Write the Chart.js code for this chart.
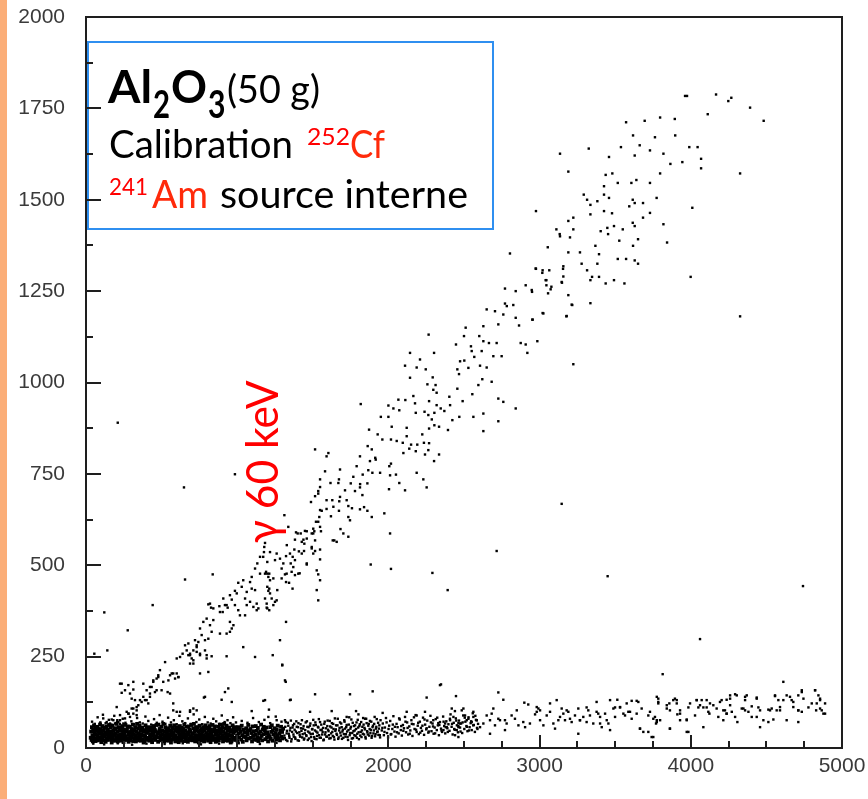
<!DOCTYPE html>
<html>
<head>
<meta charset="utf-8">
<script src="https://cdn.jsdelivr.net/npm/chart.js@4.4.1/dist/chart.umd.min.js"></script>
<style>
  html, body { margin: 0; padding: 0; background: #ffffff; }
  #wrap { position: relative; width: 868px; height: 799px; }
  canvas { display: block; }
</style>
</head>
<body>
<div id="wrap"><canvas id="c" width="868" height="799"></canvas></div>
<script>
// Axis ticks
const xTicks = [0, 1000, 2000, 3000, 4000, 5000];
const yTicks = [0, 250, 500, 750, 1000, 1250, 1500, 1750, 2000];
const xMinorTicks = [250, 500, 750, 1250, 1500, 1750, 2250, 2500, 2750, 3250, 3500, 3750, 4250, 4500, 4750];
const yMinorTicks = [125, 375, 625, 875, 1125, 1375, 1625, 1875];

// Dense low-energy core of the lower band
const lowCore = [
[31,28],[34,45],[37,22],[39,57],[42,35],[45,18],[47,49],[50,31],[53,62],[56,25],[58,41],[61,53],
[63,19],[66,37],[69,47],[71,27],[74,58],[77,33],[79,21],[82,44],[85,52],[88,29],[90,39],[93,64],
[95,24],[98,51],[101,16],[103,42],[106,34],[109,60],[111,27],[114,48],[117,20],[120,38],[122,55],[125,31],
[127,43],[130,17],[133,36],[135,59],[138,26],[141,50],[143,22],[146,46],[149,32],[152,63],[154,29],[157,40],
[159,33],[162,56],[165,23],[167,45],[170,15],[173,38],[175,61],[178,28],[181,47],[184,20],[186,52],[189,36],
[191,21],[194,40],[197,54],[199,30],[202,66],[205,25],[207,44],[210,18],[213,35],[216,57],[218,27],[221,49],
[223,31],[226,55],[229,38],[231,20],[234,48],[237,27],[239,60],[242,34],[245,42],[248,16],[250,51],[253,24],
[255,40],[258,29],[261,63],[263,32],[266,46],[269,22],[271,50],[274,26],[277,59],[280,36],[282,17],[285,43],
[287,27],[290,58],[293,33],[295,21],[298,44],[301,52],[303,29],[306,39],[309,64],[312,19],[314,37],[317,47],
[319,49],[322,27],[325,57],[327,35],[330,18],[333,44],[335,25],[338,66],[341,30],[344,54],[346,40],[349,21],
[351,38],[354,61],[357,28],[359,47],[362,20],[365,52],[367,36],[370,33],[373,56],[376,23],[378,45],[381,15],
[383,35],[386,18],[389,49],[391,31],[394,62],[397,25],[399,41],[402,53],[405,28],[408,45],[410,22],[413,57],
[415,27],[418,48],[421,20],[423,38],[426,55],[429,31],[431,24],[434,51],[437,16],[440,42],[442,34],[445,60],
[447,36],[450,59],[453,26],[455,50],[458,22],[461,46],[463,32],[466,63],[469,29],[472,40],[474,43],[477,17],
[479,64],[482,39],[485,29],[487,52],[490,44],[493,21],[495,33],[498,58],[501,27],[504,47],[506,37],[509,19],
[511,66],[514,25],[517,44],[519,18],[522,35],[525,57],[527,27],[530,49],[533,21],[536,40],[538,54],[541,30],
[543,36],[546,52],[549,20],[551,47],[554,28],[557,61],[559,38],[562,15],[565,45],[568,23],[570,56],[573,33],
[575,53],[578,41],[581,25],[583,62],[586,31],[589,49],[591,18],[594,35],[597,57],[600,22],[602,45],[605,28],
[607,24],[610,51],[613,16],[615,42],[618,34],[621,60],[623,27],[626,48],[629,20],[632,38],[634,55],[637,31],
[639,44],[642,52],[645,29],[647,39],[650,64],[653,19],[655,37],[658,47],[661,27],[664,58],[666,33],[669,21],
[671,43],[674,17],[677,36],[679,59],[682,26],[685,50],[687,22],[690,46],[693,32],[696,63],[698,29],[701,40],
[703,21],[706,40],[709,54],[711,30],[714,66],[717,25],[719,44],[722,18],[725,35],[728,57],[730,27],[733,49],
[735,33],[738,56],[741,23],[743,45],[746,15],[749,38],[751,61],[754,28],[757,47],[760,20],[762,52],[765,36],
[767,28],[770,45],[773,22],[775,57],[778,35],[781,18],[783,49],[786,31],[789,62],[792,25],[794,41],[797,53],
[799,31],[802,55],[805,38],[807,20],[810,48],[813,27],[815,60],[818,34],[821,42],[824,16],[826,51],[829,24],
[831,40],[834,29],[837,63],[839,32],[842,46],[845,22],[847,50],[850,26],[853,59],[856,36],[858,17],[861,43],
[863,19],[866,37],[869,47],[871,27],[874,58],[877,33],[879,21],[882,44],[885,52],[888,29],[890,39],[893,64],
[895,49],[898,27],[901,57],[903,35],[906,18],[909,44],[911,25],[914,66],[917,30],[920,54],[922,40],[925,21],
[927,38],[930,61],[933,28],[935,47],[938,20],[941,52],[943,36],[946,33],[949,56],[952,23],[954,45],[957,15],
[959,35],[962,18],[965,49],[967,31],[970,62],[973,25],[975,41],[978,53],[981,28],[984,45],[986,22],[989,57],
[992,26],[996,48],[999,34],[1003,19],[1006,57],[1010,40],[1013,29],[1017,52],
[1023,44],[1027,23],[1030,61],[1034,35],[1037,17],[1041,50],[1044,31],[1048,42],
[1055,30],[1059,54],[1062,21],[1066,45],[1069,37],[1073,63],[1076,26],[1080,48],
[1087,52],[1091,28],[1094,41],[1098,18],[1101,59],[1105,33],[1108,46],[1112,24],
[1119,36],[1123,60],[1126,22],[1130,47],[1133,30],[1137,55],[1140,19],[1144,40],
[1151,27],[1155,45],[1158,64],[1162,33],[1165,21],[1169,51],[1172,38],[1176,58],
[1183,49],[1187,24],[1190,39],[1194,56],[1197,29],[1201,43],[1204,18],[1208,35],
[1215,32],[1219,57],[1222,25],[1226,44],[1229,62],[1233,20],[1236,48],[1240,37],
[1247,54],[1251,30],[1254,41],[1258,23],[1261,50],[1265,35],[1268,61],[1272,27],
[1279,39],[1283,21],[1286,47],[1290,58],[1293,31],[1297,44],[1300,26],[1304,53]
];

// Lower band: fringe of the core and its slowly rising tail
const lowBand = [
[40,72],[58,66],[77,84],[95,70],[112,91],[130,68],[151,77],[168,64],[187,88],[205,71],[224,66],[243,80],
[261,69],[282,94],[300,73],[319,65],[338,82],[356,70],[375,67],[393,86],[412,74],[431,64],[450,79],[468,69],
[487,90],[506,72],[525,66],[543,83],[562,70],[581,76],[600,65],[618,88],[637,73],[656,68],[674,81],[693,66],
[712,92],[730,71],[749,78],[768,65],[786,85],[805,70],[824,67],[842,80],[861,73],[880,66],[898,89],[917,71],
[936,76],[955,68],[973,84],[992,70],[1030,74],[1068,69],[1105,82],[1143,71],[1180,77],[1218,68],[1255,86],[1293,72],
[48,12],[120,10],[210,13],[305,9],[400,12],[520,11],[640,13],[760,10],[880,12],[1010,13],[1150,11],[1260,14],
[1312,34],[1318,58],[1324,22],[1329,47],[1335,69],[1341,39],[1346,28],[1352,55],[1357,18],[1363,44],[1369,62],[1374,31],
[1380,50],[1385,25],[1391,73],[1397,41],[1402,57],[1408,20],[1413,36],[1419,65],[1425,47],[1430,29],[1436,53],[1441,23],
[1447,40],[1453,70],[1458,33],[1464,58],[1469,45],[1475,26],[1481,61],[1486,38],[1492,19],[1497,52],[1503,77],[1509,30],
[1514,48],[1520,63],[1525,24],[1531,42],[1537,56],[1542,35],[1548,71],[1553,28],[1559,50],[1565,44],[1570,21],[1576,66],
[1581,37],[1587,54],[1593,31],[1598,75],[1604,46],[1609,26],[1615,59],[1621,40],[1626,68],[1632,33],[1637,52],[1643,23],
[1649,47],[1654,62],[1660,36],[1665,80],[1671,29],[1677,55],[1682,42],[1688,67],[1693,25],[1699,50],[1705,38],[1710,72],
[1716,31],[1721,57],[1727,45],[1733,22],[1738,64],[1744,35],[1749,53],[1755,78],[1761,41],[1766,27],[1772,60],[1777,48],
[1783,33],[1789,70],[1794,39],[1800,56],[1805,24],[1811,65],[1817,44],[1822,30],[1828,58],[1833,82],[1839,37],[1845,51],
[1850,26],[1856,68],[1861,43],[1867,61],[1873,34],[1878,74],[1884,49],[1889,28],[1895,57],[1901,40],[1906,66],[1912,32],
[1917,53],[1923,79],[1929,45],[1934,36],[1940,62],[1945,29],
[1305,52],[1315,27],[1321,71],[1327,40],[1332,19],[1338,61],[1344,33],[1349,48],[1355,75],[1360,24],[1366,56],[1372,37],
[1377,66],[1383,29],[1388,45],[1394,58],[1400,21],[1405,68],[1411,43],[1416,31],[1422,54],[1428,76],[1433,38],[1439,60],
[1444,26],[1450,49],[1456,35],[1461,73],[1467,22],[1472,57],[1478,42],[1484,67],[1489,30],[1495,51],[1500,39],[1506,62],
[1512,25],[1517,70],[1523,45],[1528,33],[1534,58],[1540,79],[1545,28],[1551,49],[1556,64],[1562,37],[1568,55],[1573,23],
[1579,72],[1584,43],[1590,31],[1596,60],[1601,50],[1607,35],[1612,74],[1618,27],[1624,56],[1629,44],[1635,66],[1640,30],
[1646,81],[1652,51],[1657,39],[1663,62],[1668,25],[1674,48],[1680,70],[1685,34],[1691,57],[1696,45],[1702,28],[1708,76],
[1713,53],[1719,38],[1724,63],[1730,30],[1736,49],[1741,84],[1747,41],[1752,58],[1758,26],[1764,69],[1769,46],[1775,35],
[1780,62],[1786,52],[1792,28],[1797,77],[1803,43],[1808,60],[1814,34],[1820,71],[1825,48],[1831,39],[1836,64],[1842,55],
[1848,30],[1853,80],[1859,46],[1864,37],[1870,66],[1876,52],[1881,41],[1887,72],[1892,33],[1898,61],[1904,48],[1909,85],
[1915,38],[1920,58],[1926,44],[1932,69],[1937,53],[1943,35],[1948,76],
[1956,48],[1963,67],[1970,35],[1977,56],[1984,82],[1991,41],[1998,29],[2005,61],[2012,74],[2019,38],[2026,52],[2033,87],
[2040,45],[2047,31],[2054,66],[2061,57],[2068,40],[2075,78],[2082,49],[2089,34],[2096,63],[2103,54],[2110,85],[2117,43],
[2124,70],[2131,37],[2138,59],[2145,48],[2152,76],[2159,33],[2166,65],[2173,52],[2180,90],[2187,44],[2194,61],[2201,38],
[2208,72],[2215,55],[2222,47],[2229,83],[2236,36],[2243,64],[2250,51],[2257,75],[2264,42],[2271,58],[2278,88],[2285,46],
[2292,67],[2299,39],[2306,56],[2313,79],[2320,49],[2327,62],[2334,35],[2341,71],[2348,53],[2355,44],[2362,86],[2369,60],
[2376,40],[2383,73],[2390,54],[2397,65],[2404,47],[2411,92],[2418,58],[2425,37],[2432,69],[2439,50],[2446,81],[2453,62],
[2460,43],[2467,75],[2474,56],[2481,67],[2488,41],[2495,89],[2502,52],[2509,72],[2516,60],[2523,46],[2530,84],[2537,57],
[2544,68],[2551,49],[2558,95],[2565,63],[2572,44],[2579,77],[2586,55],[2593,66],
[1960,55],[1974,44],[1988,70],[2001,52],[2015,37],[2029,64],[2043,58],[2057,43],[2071,81],[2085,60],[2099,47],[2113,72],
[2127,55],[2141,39],[2155,66],[2169,84],[2183,50],[2197,69],[2211,42],[2225,61],[2239,78],[2253,54],[2267,45],[2281,70],
[2295,59],[2309,40],[2323,83],[2337,63],[2351,48],[2365,72],[2379,57],[2393,44],[2407,80],[2421,66],[2435,52],[2449,75],
[2463,60],[2477,45],[2491,70],[2505,83],[2519,58],[2533,48],[2547,73],[2561,62],[2575,88],[2589,52],
[2341,172],[2727,152],[2760,132],[2899,124],[2925,119],[2981,112],[2992,108],[3003,103],[2981,99],[2970,92],[3047,89],
[3069,122],[3113,131],[3190,99],[3311,111],[3322,103],[3377,126],[3388,94],[3466,131],[3488,108],[3499,111],[3532,111],
[3514,132],[3609,129],[3642,129],[3675,108],[3752,80],[3770,67],[3785,126],[3785,135],[3841,108],[3858,122],[3884,131],
[3907,131],[3929,103],[3911,92],[3973,78],[4039,131],[4072,131],[4050,111],[4083,111],[4105,111],[4123,94],[4127,122],
[4204,131],[4237,132],[4226,103],[4237,94],[4260,144],[4293,147],[4293,85],[4337,108],[4359,131],[4370,144],[4359,103],
[4436,138],[4447,111],[4458,103],[4513,105],[4535,108],[4557,142],[4579,131],[4656,140],[4678,126],[4711,144],
[4734,158],[4711,103],[4734,99],[4822,158],[4844,144],[4855,131],[4829,103],[4855,108],[4888,122],[4877,94],[4634,76],
[4546,78],[4513,71],[4436,85],[4308,71],[4215,76],[4083,57],[3973,44],[3862,53],[3775,76],[3752,30],[3664,53],[3686,44],
[3444,76],[3400,67],[3411,57],[3256,39],[3289,85],[3267,76],[3212,71],[3201,80],[3135,85],[3124,76],[3091,67],[3025,62],
[3003,76],[2892,71],[2936,67],[2904,57],[2860,62],[2837,80],[2771,76],[2782,67],[2738,76],[2727,80],[2705,62],[2650,89],
[2672,76],[2628,67],[2606,57],[2562,85],[2584,76],[2551,71],[2507,89],[2518,76],[2474,67],[2463,57],[2452,49],[2430,85],
[2408,76],[2386,57],[2375,67],[2364,49],[2441,35],[2463,30],[2672,39],[2771,49],[3102,53],[3576,122],[3565,89],[3730,99],
[3719,89],[3984,111],[3995,122],[4800,122],[4778,111],[4590,112],[4568,103],[4403,114],[4381,99],[4260,117],[4271,99],
[4171,108],[4182,85],[4028,89],[3929,76],[3587,99],[3609,80],[3256,108],[3234,89],[3146,108],[3069,99],[2849,103],[2815,89],
[2694,108],[2683,94],[2485,103],[2419,108],
[3157,94],[3179,103],[3168,76],[3267,76],[3311,71],[3333,89],[3355,67],[3377,99],[3400,85],[3433,94],[3455,67],[3466,49],
[3499,85],[3532,112],[3554,94],[3598,99],[3642,94],[3653,126],[3664,53],[3719,44],[3741,30],[3775,140],[3785,122],[3763,85],
[3775,71],[3797,76],[3841,117],[3862,103],[3895,135],[3907,122],[3929,94],[3862,53],[3973,76],[3984,44],[4039,131],[4061,117],
[4105,131],[4116,99],[4149,117],[4193,126],[4215,103],[4237,94],[4260,135],[4304,144],[4348,108],[4359,140],[4403,85],
[4436,135],[4458,57],[4480,76],[4524,103],[4557,144],[4590,103],[4612,131],[4634,144],[4667,131],[4678,112],[4711,103],
[4711,71],[4734,153],[4745,135],[4822,158],[4833,122],[4855,135],[4866,103],[4888,94],[4612,181]
];

// Upper (gamma) band, including the 60 keV line events near x ~ 1200
const gammaBand = [
[3962,1784],[3975,1784],[4167,1788],[4268,1779],[4248,1770],[4392,1752],[4482,1716],[4112,1734],[3572,1712],[3695,1716],
[3797,1725],[3894,1721],[3618,1676],[3763,1671],[3897,1676],[3325,1640],[3538,1644],[3662,1649],[3730,1635],[3990,1644],
[4045,1644],[3135,1626],[3459,1617],[3629,1621],[3819,1626],[4068,1612],[3944,1603],[3865,1598],[4068,1586],[3190,1577],
[3437,1568],[3481,1572],[3797,1572],[4326,1572],[3640,1554],[3517,1546],[3607,1546],[3730,1546],[3426,1537],[3292,1514],
[3426,1514],[3459,1505],[3314,1500],[3382,1496],[3616,1500],[3774,1505],[3629,1491],[3684,1491],[3336,1486],[3593,1482],
[2976,1469],[3426,1469],[3479,1463],[3730,1464],[3336,1460],[4010,1478],[3223,1451],[3684,1451],[3190,1442],[3616,1437],
[3819,1433],[3629,1428],[3492,1428],[3448,1423],[3111,1419],[3223,1419],[3550,1419],[3404,1414],[3453,1406],[3133,1406],
[3201,1397],[3651,1392],[3527,1388],[3843,1383],[3369,1374],[3618,1374],[3054,1370],[3190,1356],[3267,1356],[3393,1351],
[3517,1338],[3572,1338],[3629,1334],[3651,1325],[3278,1325],[3382,1325],[2976,1311],[3020,1307],[3064,1307],[3155,1311],
[3314,1307],[3347,1289],[3393,1289],[3999,1289],[3045,1280],[3148,1273],[3336,1280],[3492,1280],[3437,1271],[3561,1271],
[2908,1266],[3045,1266],[3078,1262],[2950,1248],[3056,1244],[3190,1239],[3336,1217],[3212,1213],[3020,1190],[2954,1172],
[3177,1181],[4326,1181],
[2804,1353],[2771,1257],[2974,1312],[3018,1300],[3040,1280],[3073,1255],[3146,1275],[3157,1290],[2948,1253],[2842,1250],
[3135,1400],[3157,1318],
[2771,1216],[2783,1209],[2826,1212],[2705,1195],[2650,1200],[2760,1186],[3216,1212],[3025,1189],[3179,1182],[2842,1177],
[2952,1172],[2727,1159],[2864,1156],[2511,1150],[2628,1154],[2266,1131],[2500,1127],[2601,1127],[2447,1104],[2546,1099],
[2628,1113],[2665,1108],[2716,1108],[2875,1108],[2908,1104],[2985,1113],[2551,1086],[2617,1086],[2568,1070],[2694,1072],
[2749,1072],[2919,1081],[2143,1081],[2302,1081],[2209,1063],[2474,1058],[2502,1060],[2110,1046],[2187,1041],[2247,1036],
[2456,1036],[2529,1040],[2606,1046],[2650,1041],[3223,1050],[2467,1023],[2143,1013],[2293,1014],[2621,1009],[2683,1002],
[2258,995],[2312,993],[2595,993],[2297,980],[2456,983],[2165,963],[2319,972],[2555,968],[2066,953],[2112,952],
[2269,949],[2403,961],[2491,949],[2727,956],[2760,947],[1817,941],[2000,937],[2176,943],[2319,938],[2346,929],
[2408,938],[2842,929],[2033,929],[2072,924],[1950,906],[2000,906],[2181,917],[2239,920],[2304,917],[2370,922],
[2264,911],[2287,899],[2469,906],[2562,906],[2628,915],[2727,894],[2423,897],[2022,879],[1872,871],[2121,876],
[2269,874],[2304,883],[2335,879],[2394,870],[2628,867],[1929,858],[2121,853],[2224,858],[1960,844],[2017,844],
[2055,840],[2095,835],[2150,830],[2191,830],[2235,835],[2269,834],[1863,826],[1890,817],[1515,817],[2138,819],
[2099,807],[2181,812],[2242,803],[2264,815],[2335,803],[1603,807],[1591,798],[1812,798],[1913,794],[1916,789],
[1878,785],[2017,778],[2302,785],[1790,771],[2006,771],[1867,760],[1894,753],[1945,753],[2187,753],[1581,757],
[1680,762],[1830,748],[2011,746],[2050,748],[1768,742],[1548,735],[1673,735],[1813,722],[1617,725],[1751,724],
[1861,724],[2231,735],[2072,725],[2110,705],[2253,713],[2004,708],[1713,705],[1812,713],[1669,725],[1515,689],
[1536,703],[1779,703],[1828,692],[1488,673],[1629,678],[1675,675],[1724,678],[1591,654],[1673,649],[1735,662],
[1559,649],[1759,656],[1839,659],[1861,649],[1812,653],[1973,642],[1890,632],[1735,632],[1543,632],[1620,634],
[1521,619],[1746,623],[1548,605],[1510,593],[1683,599],[1554,593],[1735,578],[1702,587],[1632,568],[1493,587],
[1460,593],[1438,570],[1444,559],[1400,587],[1382,570],[1328,555],[1408,538],[1378,543],[1493,546],[1515,539],
[1548,543],[1427,564],[1367,523],[1548,516],[1323,525],[1354,505],[1371,495],[1460,502],[1305,505],[1413,478],
[1382,473],[1316,475],[1536,475],[1343,452],[1366,436],[1526,432],[1883,502],[2017,490],[2011,587],
[1312,637],[1338,605],[1389,590],[1420,587],[1448,594],[1184,561],[1179,550],[1177,536],[1172,523],[1217,536],
[1250,514],[1283,518],[1151,523],[1133,505],[1199,509],[1191,482],[1199,477],[1212,477],[1184,477],[1206,468],
[1217,459],[1199,441],[1212,436],[1206,430],[1217,423],[1228,409],[1184,409],[1195,395],[1199,382],[1265,432],
[1261,404],[1239,464],[1294,464],[1323,454],[1294,491],[1327,477],[1360,482],[1404,477],[1382,514],[1460,505],
[1349,532],[1261,532],[1151,477],[1118,491],[1096,468],[1085,454],[1118,432],[1096,436],[1040,459],[1007,452],
[1030,441],[1063,427],[985,430],[997,423],[964,406],[952,418],[1052,409],[1085,400],[1129,395],[1107,386],
[908,409],[919,391],[882,388],[842,382],[820,395],[1536,404],[1548,459],[1526,486],[1503,532],[1503,587],
[1515,568],[1548,651],[1591,678],[1636,660],[1680,687],[1642,568],[1658,564],[1536,619],[1503,600],[1536,696],
[1548,714],[1460,573],[1493,550],[1427,532],[1442,539],
[809,393],[827,384],[886,372],[904,372],[930,391],[937,384],[985,391],[1007,377],[1018,363],[1052,363],
[1063,391],[1129,377],[1140,382],[1195,384],[1212,377],[1239,391],[1250,400],[776,345],[798,354],[820,336],
[831,318],[842,350],[886,313],[952,345],[964,327],[975,336],[952,318],[930,313],[1040,276],[1118,249],
[1235,254],[1323,345],[1283,295],[1316,185],[1349,131],[1298,228],[754,327],[765,309],[743,290],[732,276],
[710,267],[688,258],[809,299],[787,267],[754,254],[732,263],[798,245],[655,281],[639,258],[622,249],
[600,245],[677,254],[688,231],[710,240],[699,245],[523,235],[577,204],[589,190],[611,194],[556,199],
[489,213],[467,190],[445,185],[478,194],[511,181],[545,185],[401,158],[434,167],[456,153],[423,149],
[379,140],[357,131],[390,131],[412,122],[313,181],[280,172],[236,176],[258,158],[291,149],[302,135],
[324,131],[335,112],[302,108],[313,94],[335,90],[280,94],[258,81],[225,90],[203,112],[214,71],
[181,76],[114,81],[137,71],[159,67],[93,67],[577,103],[600,99],[688,103],[787,140],[897,132],
[941,163],[1184,131],[1206,85],[1261,76],[1316,76],
[1298,226],[930,251],[1321,181],[1354,132],[1515,147],[1746,147],[1896,155],[2348,174],[2253,138],[2447,142],
[780,138],[964,126],[919,153],[1173,129],[1096,101],[1210,105],[1482,99],[1625,101],[1724,85],[1786,101],
[1802,92],[1846,80],[1962,96],[2121,99],[2187,89],[2242,99],[2297,76],[2330,68],[2440,101],[2496,108],
[2562,99],[2529,80],[2584,76],[2463,68],[225,176],[236,151],[313,160],[379,176],[423,167],[445,181],
[478,199],[500,158],[467,158],[423,140],[401,131],[368,126],[346,117],[313,108],[335,103],[269,99],
[291,85],[225,76],[247,67],[207,76],[192,67],[170,78],[540,153],[556,149],[577,122],[622,99],
[688,99],[600,204],[611,194],[567,204],[710,108],[732,103],[754,204],[809,208],[688,254],[710,231],
[754,258],[798,254],[831,251],[666,267],[677,286],[721,295],[732,281],[787,295]
];

// Isolated events away from both bands
const strays = [
[210,890],[648,713],[985,749],[655,461],[838,475],[441,391],[121,371],[276,322],[141,267],[55,258],
[3146,668],[3450,470],[4742,443],[4061,298],[3814,202],[2716,539],[2291,479],[2392,432]
];

const toXY = arr => arr.map(([x, y]) => ({ x, y }));

const TEXT_FONT = 'Lato, "Open Sans", "Noto Sans", sans-serif';

// Draw a string starting at `left`, squeezed or stretched to `width` pixels
function fitText(ctx, str, left, baseline, font, color, width) {
  ctx.font = font;
  const w = ctx.measureText(str).width;
  ctx.save();
  ctx.translate(left, baseline);
  ctx.scale(width / w, 1);
  ctx.fillStyle = color;
  ctx.textAlign = 'left';
  ctx.textBaseline = 'alphabetic';
  ctx.fillText(str, 0, 0);
  ctx.restore();
}

const frameAndNotes = {
  id: 'frameAndNotes',
  beforeDraw(chart) {
    const { ctx, width, height } = chart;
    ctx.save();
    ctx.fillStyle = '#ffffff';
    ctx.fillRect(0, 0, width, height);
    ctx.fillStyle = '#fbae78';
    ctx.fillRect(0, 0, 7, height);
    ctx.restore();
  },
  afterDatasetsDraw(chart) {
    const { ctx, chartArea: ca, scales } = chart;
    const xs = scales.x, ys = scales.y;
    ctx.save();

    // Legend box
    const bx = ca.left + 2, by = ca.top + 25, bw = 405, bh = 187;
    ctx.fillStyle = '#ffffff';
    ctx.fillRect(bx, by, bw, bh);
    ctx.strokeStyle = '#2f8ff0';
    ctx.lineWidth = 2;
    ctx.strokeRect(bx, by, bw, bh);

    const black = '#000000', red = '#ff0000', red2 = '#ff2a0a';
    const bold = s => 'bold ' + s + 'px ' + TEXT_FONT;
    const reg = s => s + 'px ' + TEXT_FONT;
    fitText(ctx, 'Al', bx + 20, by + 61, bold(45), black, 44);
    fitText(ctx, '2', bx + 65, by + 76, bold(38), black, 17);
    fitText(ctx, 'O', bx + 83, by + 61, bold(45), black, 36);
    fitText(ctx, '3', bx + 120, by + 76, bold(38), black, 17.5);
    fitText(ctx, '(50 g)', bx + 139, by + 61, reg(39), black, 93);
    fitText(ctx, 'Calibration', bx + 21, by + 116, reg(39), black, 184);
    fitText(ctx, '252', bx + 219, by + 103, reg(24), red, 43);
    fitText(ctx, 'Cf', bx + 262, by + 116, reg(39), red2, 35);
    fitText(ctx, '241', bx + 21, by + 153, reg(24), red, 39);
    fitText(ctx, 'Am', bx + 64, by + 166, reg(39), red2, 56);
    fitText(ctx, 'source interne', bx + 132, by + 166, reg(39), black, 248);

    // Frame
    ctx.strokeStyle = '#1e1e1e';
    ctx.lineWidth = 2;
    ctx.strokeRect(ca.left, ca.top, ca.right - ca.left, ca.bottom - ca.top);

    // Inward ticks on the left and bottom axes
    ctx.beginPath();
    for (const v of yTicks) {
      const p = Math.round(ys.getPixelForValue(v));
      ctx.moveTo(ca.left, p); ctx.lineTo(ca.left + 15, p);
    }
    for (const v of yMinorTicks) {
      const p = Math.round(ys.getPixelForValue(v));
      ctx.moveTo(ca.left, p); ctx.lineTo(ca.left + 7, p);
    }
    for (const v of xTicks) {
      const p = Math.round(xs.getPixelForValue(v));
      ctx.moveTo(p, ca.bottom); ctx.lineTo(p, ca.bottom - 13);
    }
    for (const v of xMinorTicks) {
      const p = Math.round(xs.getPixelForValue(v));
      ctx.moveTo(p, ca.bottom); ctx.lineTo(p, ca.bottom - 7);
    }
    ctx.stroke();

    // 60 keV gamma line label, written upwards
    const gx = xs.getPixelForValue(1270), gy = ys.getPixelForValue(783);
    ctx.translate(gx, gy);
    ctx.rotate(-Math.PI / 2);
    fitText(ctx, 'γ 60 keV', -81.5, 0, reg(45), red, 163);
    ctx.restore();
  }
};

const pointStyle = (data, r) => ({
  data: toXY(data),
  pointStyle: 'rect',
  pointRadius: r,
  pointHoverRadius: r,
  borderWidth: 0,
  backgroundColor: '#000000',
  borderColor: '#000000'
});

const tickFont = { family: '"Liberation Sans", Arial, sans-serif', size: 21 };

// Only the layout padding sets the plot position
const noScalePadding = s => { s.paddingTop = 0; s.paddingBottom = 0; s.paddingLeft = 0; s.paddingRight = 0; };

new Chart(document.getElementById('c'), {
  type: 'scatter',
  data: {
    datasets: [
      pointStyle(lowCore, 2.7),
      pointStyle(lowBand, 1.7),
      pointStyle(gammaBand, 1.7),
      pointStyle(strays, 1.7)
    ]
  },
  options: {
    responsive: false,
    devicePixelRatio: 1,
    animation: false,
    events: [],
    layout: { padding: { left: 0, right: 26, top: 17, bottom: 0 } },
    plugins: { legend: { display: false }, tooltip: { enabled: false } },
    scales: {
      x: {
        type: 'linear',
        position: 'bottom',
        min: 0, max: 5000,
        grid: { display: false, drawTicks: false },
        border: { display: false },
        afterBuildTicks: s => { s.ticks = xTicks.map(v => ({ value: v })); },
        afterFit: s => { s.height = 51; noScalePadding(s); },
        ticks: {
          autoSkip: false, maxRotation: 0, padding: 6,
          color: '#3a3a3a', font: tickFont,
          callback: v => String(v)
        }
      },
      y: {
        type: 'linear',
        position: 'left',
        min: 0, max: 2000,
        grid: { display: false, drawTicks: false },
        border: { display: false },
        afterBuildTicks: s => { s.ticks = yTicks.map(v => ({ value: v })); },
        afterFit: s => { s.width = 86; noScalePadding(s); },
        ticks: {
          autoSkip: false, padding: 21,
          color: '#3a3a3a', font: tickFont,
          callback: v => String(v)
        }
      }
    }
  },
  plugins: [frameAndNotes]
});
</script>
</body>
</html>
